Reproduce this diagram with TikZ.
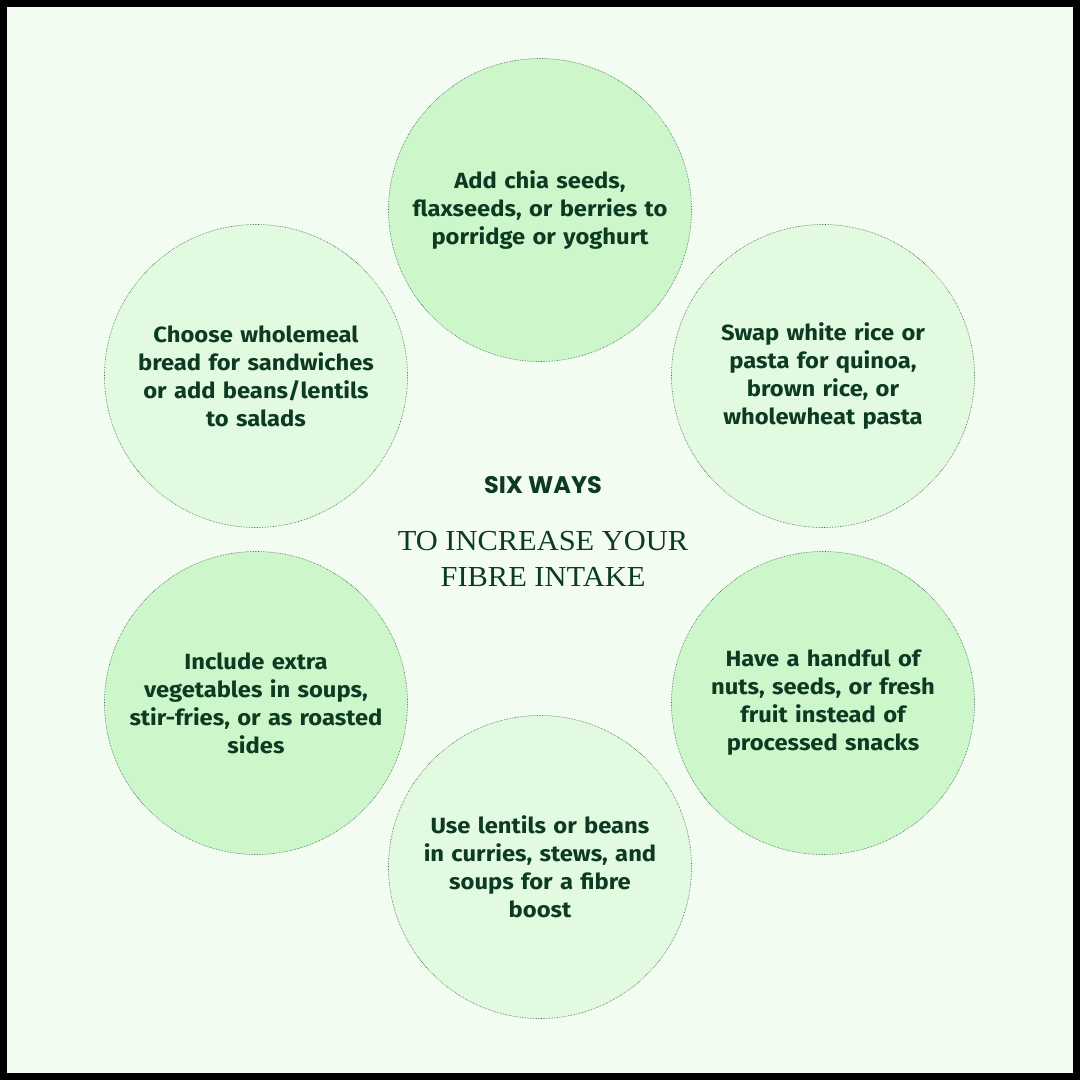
\documentclass[tikz,border=0pt]{standalone}
\usepackage{fontspec}
\setmainfont{Fira Sans}
\newfontfamily\bodyfont[FakeStretch=1.08]{Fira Sans}
\newfontfamily\headfont{Poppins}
\newfontfamily\serifA[FakeStretch=1.05]{Liberation Serif}
\definecolor{bg}{HTML}{F3FCF1}
\definecolor{cdark}{HTML}{CDF7CB}
\definecolor{clight}{HTML}{E2FAE0}
\definecolor{ink}{HTML}{0D3A22}
\tikzset{
  tip/.style={circle,minimum size=303pt,draw=ink!80,densely dotted,line width=0.6pt,
    text width=280pt,align=center,font=\bodyfont\fontsize{22}{28}\selectfont\bfseries,text=ink,inner sep=0pt},
}
\begin{document}
\begin{tikzpicture}[x=1pt,y=-1pt]
\fill[black] (0,0) rectangle (1080,1080);
\fill[bg] (7,7) rectangle (1073,1073);
\useasboundingbox (0,0) rectangle (1080,1080);
\node[tip,fill=cdark] (t) at (540,210) {Add chia seeds,\\flaxseeds, or berries to\\porridge or yoghurt};
\node[tip,fill=clight] (ur) at (823,376) {Swap white rice or\\pasta for quinoa,\\brown rice, or\\wholewheat pasta};
\node[tip,fill=cdark] (lr) at (823,703) {Have a handful of\\nuts, seeds, or fresh\\fruit instead of\\processed snacks};
\node[tip,fill=clight] (b) at (540,867) {Use lentils or beans\\in curries, stews, and\\soups for a fibre\\boost};
\node[tip,fill=cdark] (ll) at (256,703) {Include extra\\vegetables in soups,\\stir-fries, or as roasted\\sides};
\node[tip,fill=clight] (ul) at (256,376) {Choose wholemeal\\bread for sandwiches\\or add beans/lentils\\to salads};
\node[text=ink,font=\headfont\fontsize{24}{28}\selectfont\bfseries] (h) at (543,485) {SIX WAYS};
\node[text=ink,font=\serifA\fontsize{29}{36}\selectfont,align=center] (s) at (543,559) {TO INCREASE YOUR\\FIBRE INTAKE};
\end{tikzpicture}
\end{document}
